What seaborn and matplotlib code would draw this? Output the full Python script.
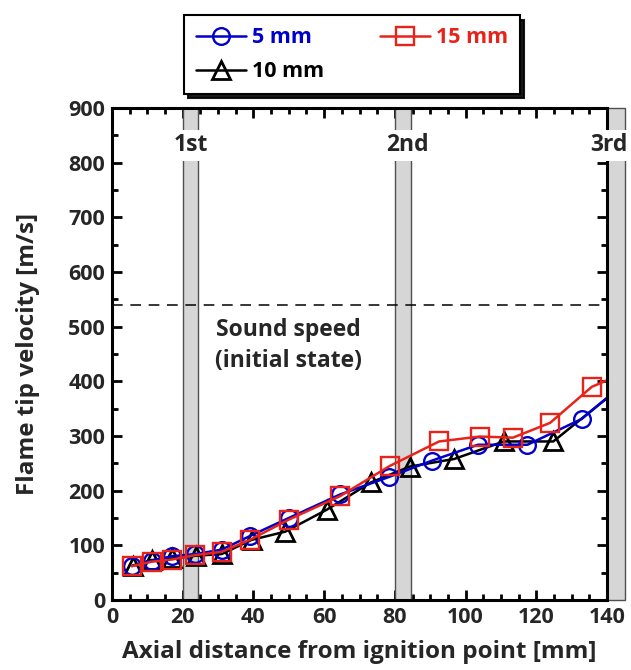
import matplotlib
matplotlib.use("Agg")
import matplotlib.pyplot as plt
import seaborn as sns
import pandas as pd
from matplotlib.ticker import MultipleLocator

# ---- data ----
x_5mm = [5.6, 11.2, 16.9, 23.5, 31.0, 39.0, 50.0, 64.5, 78.3, 90.5, 103.5, 117.5, 132.8, 148.0]
v_5mm = [62, 72, 80, 84, 92, 117, 150, 193, 225, 255, 284, 284, 331, 413]

x_10mm = [5.8, 11.2, 17.0, 23.8, 31.0, 39.5, 49.0, 60.7, 73.2, 84.2, 96.8, 110.8, 124.8, 148.0]
v_10mm = [63, 73, 76, 81, 84, 110, 125, 165, 215, 244, 258, 290, 290, 411]

x_15mm = [5.6, 11.2, 16.9, 23.5, 31.0, 39.0, 50.0, 64.5, 78.5, 92.5, 104.0, 113.4, 123.9, 135.7, 148.0]
v_15mm = [62, 70, 74, 82, 88, 110, 147, 190, 245, 290, 299, 297, 324, 390, 424]

bands = [(20.0, 24.4), (80.0, 84.5), (140.0, 145.2)]
band_labels = ["1st", "2nd", "3rd"]
band_label_x = [22.2, 83.5, 140.5]
sound_speed = 540

sns.set_theme(style="ticks")
plt.rcParams['font.family'] = ['Open Sans', 'DejaVu Sans']
plt.rcParams['font.weight'] = 'bold'

fig = plt.figure(figsize=(6.31, 6.70), dpi=100)
ax = fig.add_axes([0.1775, 0.1045, 0.7845, 0.7343])

for (a, b) in bands:
    ax.axvspan(a, b, facecolor='#d6d6d6', edgecolor='#505050', lw=1.0,
               zorder=1, clip_on=False)
for lx, lab in zip(band_label_x, band_labels):
    ax.text(lx, 832, lab, ha='center', va='center', fontsize=16.5,
            fontweight='bold', zorder=9, clip_on=False,
            bbox=dict(facecolor='white', edgecolor='none', pad=2.5))

ax.axhline(sound_speed, color='black', lw=1.1, ls=(0, (7, 5)), zorder=2)
ax.text(50, 466, "Sound speed\n(initial state)", ha='center', va='center',
        fontsize=16.5, fontweight='bold', linespacing=1.4, zorder=3)

df5 = pd.DataFrame({"x": x_5mm, "v": v_5mm})
df10 = pd.DataFrame({"x": x_10mm, "v": v_10mm})
df15 = pd.DataFrame({"x": x_15mm, "v": v_15mm})

blue = '#0000cc'
red = '#e8231a'
sns.lineplot(data=df5, x="x", y="v", ax=ax, color=blue, marker='o', ms=12,
             mfc='none', mec=blue, mew=1.7, lw=1.8, label='5 mm', zorder=5, sort=False)
sns.lineplot(data=df10, x="x", y="v", ax=ax, color='black', marker='^', ms=13,
             mfc='none', mec='black', mew=2.0, lw=1.8, label='10 mm', zorder=4, sort=False)
sns.lineplot(data=df15, x="x", y="v", ax=ax, color=red, marker='s', ms=13,
             mfc='none', mec=red, mew=1.7, lw=1.8, label='15 mm', zorder=6, sort=False)

ax.set_xlim(0, 140)
ax.set_ylim(0, 900)
ax.xaxis.set_major_locator(MultipleLocator(20))
ax.xaxis.set_minor_locator(MultipleLocator(5))
ax.yaxis.set_major_locator(MultipleLocator(100))
ax.yaxis.set_minor_locator(MultipleLocator(50))
ax.tick_params(which='both', direction='in', top=True, right=True, width=2.0,
               color='black', labelsize=15.5)
ax.tick_params(which='major', length=7, pad=5)
ax.tick_params(which='minor', length=4)
for t in ax.get_xticklabels() + ax.get_yticklabels():
    t.set_fontweight('bold')
for s in ax.spines.values():
    s.set_linewidth(2.2)
    s.set_color('black')
    s.set_zorder(7)

ax.set_xlabel("Axial distance from ignition point [mm]", fontsize=17.5,
              fontweight='bold', labelpad=9)
ax.set_ylabel("Flame tip velocity [m/s]", fontsize=17.5, fontweight='bold',
              labelpad=20)

leg = ax.legend(loc='upper center', bbox_to_anchor=(0.558, 0.977),
                bbox_transform=fig.transFigure, borderaxespad=0, ncol=2, frameon=True,
                fancybox=False, shadow={'color': 'black', 'alpha': 0.9, 'ox': 3, 'oy': -3},
                edgecolor='black', framealpha=1, columnspacing=2.6,
                handlelength=2.3, handletextpad=0.3, borderpad=0.55,
                labelspacing=0.6, prop={'weight': 'bold', 'size': 15.5})
leg.get_frame().set_linewidth(1.5)
for txt, c in zip(leg.get_texts(), [blue, 'black', red]):
    txt.set_color(c)

fig.savefig("out.png", dpi=100)
